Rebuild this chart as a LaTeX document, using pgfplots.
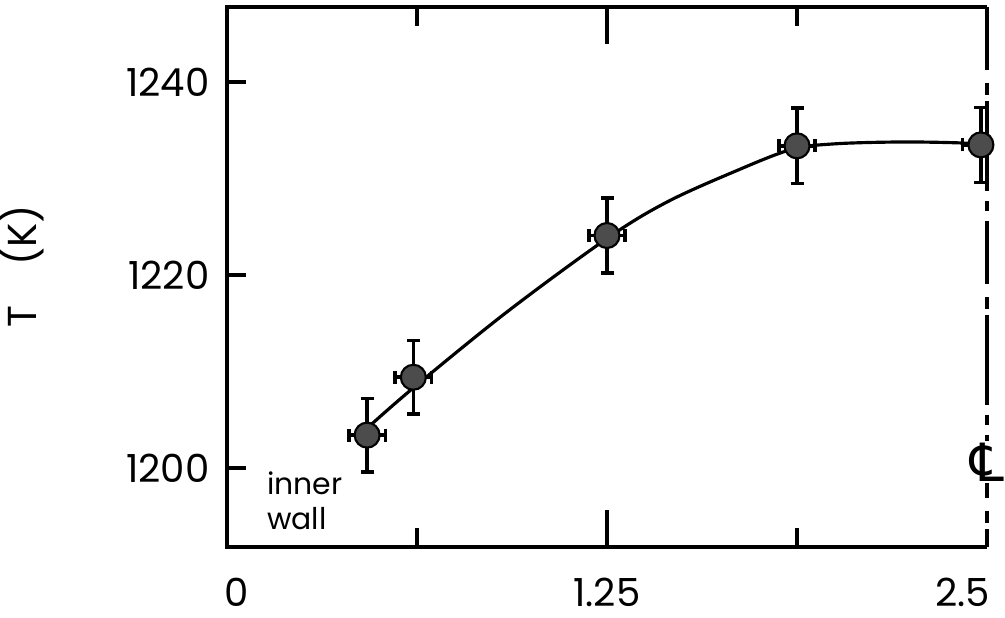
\documentclass[border=0pt]{standalone}
\usepackage{pgfplots}
\usepackage{pgfplotstable}
\pgfplotsset{compat=1.18}
\usepackage{fontspec}
\setmainfont{Poppins}
\newfontfamily\symfont{DejaVu Sans}
\usetikzlibrary{calc}

% measured points: x, T, x-error (+/-), T-error (+/-)
\pgfplotstableread{
x     y       exp   exm   eyp  eym
0.461 1203.4  0.06  0.06  3.8  3.8
0.613 1209.4  0.06  0.06  3.8  3.8
1.25  1224.1  0.06  0.06  3.9  3.9
1.875 1233.4  0.06  0.06  3.9  3.9
2.48  1233.5  0.00  0.06  3.9  3.9
}\meas

% fitted curve
\pgfplotstableread{
x     y
0.464 1204.2
0.613 1208.3
0.922 1216.2
1.255 1223.9
1.449 1227.6
1.667 1230.7
1.854 1233.0
1.996 1233.6
2.217 1233.8
2.414 1233.7
2.480 1233.5
}\fit

\begin{document}
\begin{tikzpicture}
\begin{axis}[
  name=ax,
  scale only axis,
  width=7.60cm, height=5.40cm,
  xmin=0, xmax=2.5,
  ymin=1191.8, ymax=1247.8,
  clip=false,
  axis line style={draw=none},
  tick style={black, line width=1pt},
  ytick={1200,1220,1240},
  ytick pos=left,
  major tick length=0.19cm,
  xtick={0.625,1.875},
  xticklabels={},
  extra x ticks={1.25},
  extra x tick labels={1.25},
  extra x tick style={major tick length=0.37cm},
  /pgf/number format/1000 sep={},
  /pgf/number format/assume math mode=true,
  ticklabel style={font=\fontsize{11}{13}\selectfont},
  yticklabel style={anchor=east, inner sep=0pt, xshift=-0.17cm},
  xticklabel style={anchor=north, inner sep=0pt, yshift=-0.30cm},
  ylabel={T\hspace{0.4cm}(K)},
  ylabel style={font=\fontsize{11.5}{13}\selectfont, at={(axis description cs:-0.27,0.52)}, anchor=center},
]
\addplot[black, line width=0.9pt, smooth, tension=0.55] table[x=x, y=y] {\fit};

\addplot[only marks, mark=*, mark size=0.125cm,
  mark options={fill=black!70, draw=black, line width=0.6pt},
  error bars/.cd,
    x dir=both, x explicit, y dir=both, y explicit,
    error bar style={black, line width=1pt},
    error mark options={rotate=90, mark size=0.065cm, line width=1pt, black}]
  table[x=x, y=y, x error plus=exp, x error minus=exm,
        y error plus=eyp, y error minus=eym] {\meas};

% frame: solid left, top, bottom; centre line on the right
\draw[line width=1.1pt] (rel axis cs:1,1) -- (rel axis cs:0,1) -- (rel axis cs:0,0) -- (rel axis cs:1,0);
\draw[line width=1pt, dash pattern=on 0.63cm off 0.13cm on 0.12cm off 0.06cm on 0.9cm off 0.1cm on 0.1cm off 0.1cm]
  (rel axis cs:1,1) -- (rel axis cs:1,0);

% labels along the x axis at the ends
\node[anchor=north, inner sep=0pt, yshift=-0.30cm, font=\fontsize{11}{13}\selectfont] at (axis cs:0.033,1191.8) {0};
\node[anchor=north, inner sep=0pt, yshift=-0.30cm, font=\fontsize{11}{13}\selectfont] at (axis cs:2.42,1191.8) {2.5};

\node[anchor=west, align=left, inner sep=0pt, font=\fontsize{8.5}{10}\selectfont] at (axis cs:0.13,1196.6) {inner\\wall};

\node[fill=white, inner sep=0.5pt, font=\fontsize{15}{15}\symfont]
  at (axis cs:2.5,1200.6) {℄};
\end{axis}
\pgfresetboundingbox
\path ($(ax.south west)+(-2.27cm,-0.71cm)$) rectangle ($(ax.north east)+(0.18cm,0.07cm)$);
\end{tikzpicture}
\end{document}
